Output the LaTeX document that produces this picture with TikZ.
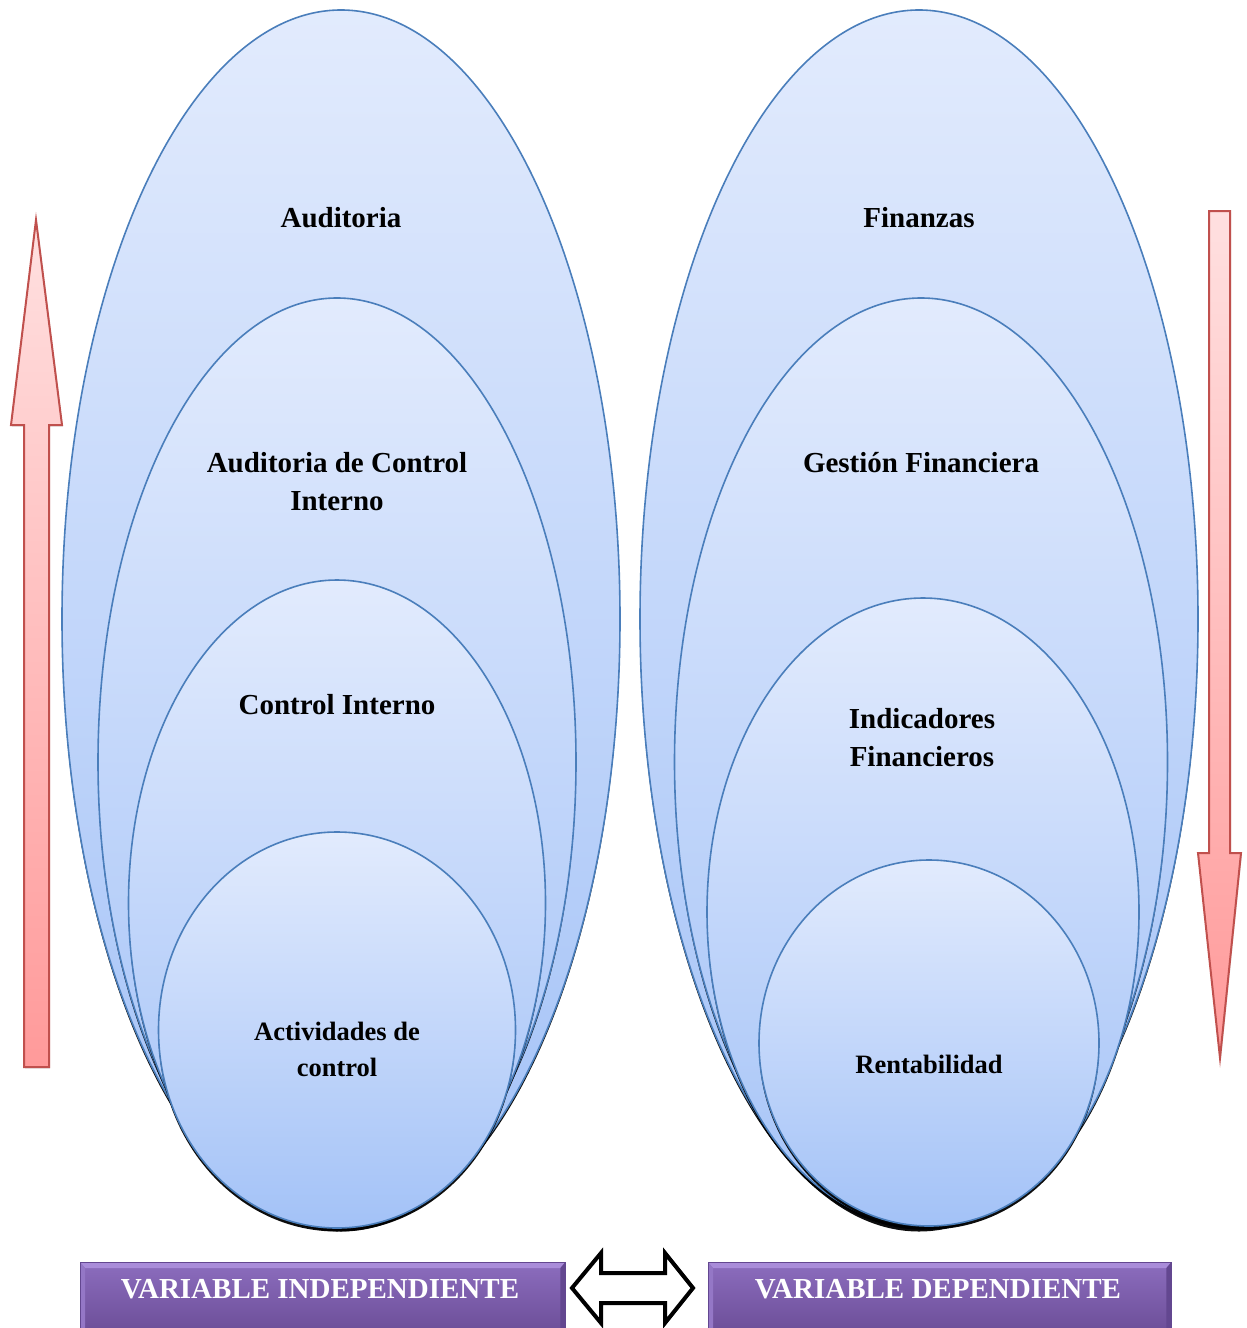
\documentclass[tikz,border=0pt]{standalone}
\usepackage{fontspec}
\setmainfont{Liberation Serif}
\usetikzlibrary{shapes.geometric,shadows}

\definecolor{ellTop}{HTML}{E2EBFD}
\definecolor{ellBot}{HTML}{A3C2F7}
\definecolor{ellLine}{HTML}{4A7EBB}
\definecolor{arrTop}{HTML}{FFE0E0}
\definecolor{arrBot}{HTML}{FF9A9A}
\definecolor{arrLine}{HTML}{C0504D}
\definecolor{boxTop}{HTML}{8C6DBE}
\definecolor{boxBot}{HTML}{6C4E98}
\definecolor{boxHi}{HTML}{A98CD9}
\definecolor{boxSide}{HTML}{9477C6}
\definecolor{boxDark}{HTML}{634790}

\begin{document}
\begin{tikzpicture}[x=1pt,y=-1pt,
  oval/.style={ellipse, draw=ellLine, line width=1.6pt, top color=ellTop,
    bottom color=ellBot, inner sep=0pt,
    drop shadow={shadow xshift=0pt, shadow yshift=-3.5pt, opacity=0.95, fill=black}},
  lbl/.style={font=\bfseries\fontsize{29}{38}\selectfont, align=center},
  lblsmall/.style={font=\bfseries\fontsize{26.5}{36}\selectfont, align=center},
  redarrow/.style={draw=arrLine, line width=2pt, top color=arrTop,
    bottom color=arrBot, line join=miter,
    drop shadow={shadow xshift=1pt, shadow yshift=-1.5pt, opacity=0.25}},
  varbox/.style={rectangle, anchor=north west, inner sep=0pt,
    top color=boxTop, bottom color=boxBot},
  vartext/.style={font=\bfseries\fontsize{29}{34}\selectfont, text=white},
  twoway/.style={draw=black, line width=4pt, fill=white, line join=miter}
]
\useasboundingbox (0,0) rectangle (1247,1328);

% left column: nested ellipses
\node[oval, minimum width=558, minimum height=1218] (L1) at (341,619) {};
\node[oval, minimum width=478, minimum height=928] (L2) at (337,762) {};
\node[oval, minimum width=417, minimum height=646] (L3) at (337,903) {};
\node[oval, minimum width=357, minimum height=396] (L4) at (337,1030) {};

% right column: nested ellipses
\node[oval, minimum width=558, minimum height=1218] (R1) at (919,619) {};
\node[oval, minimum width=493, minimum height=928] (R2) at (921,762) {};
\node[oval, minimum width=432, minimum height=628] (R3) at (923,912) {};
\node[oval, minimum width=340, minimum height=366] (R4) at (929,1043) {};

% labels
\node[lbl] (tL1) at (341,218) {Auditoria};
\node[lbl] (tL2) at (337,482) {Auditoria de Control\\Interno};
\node[lbl] (tL3) at (337,705) {Control Interno};
\node[lblsmall] (tL4) at (337,1049) {Actividades de\\control};

\node[lbl] (tR1) at (919,218) {Finanzas};
\node[lbl] (tR2) at (921,463) {Gestión Financiera};
\node[lbl] (tR3) at (922,738) {Indicadores\\Financieros};
\node[lblsmall] (tR4) at (929,1064) {Rentabilidad};

% direction arrows
\draw[redarrow] (36,220) -- (62,425) -- (49,425) -- (49,1067) -- (24,1067)
  -- (24,425) -- (11,425) -- cycle;
\draw[redarrow] (1209,211) -- (1230,211) -- (1230,853) -- (1241,853)
  -- (1220,1058) -- (1198,853) -- (1209,853) -- cycle;

% variable boxes with a bevelled rim
\node[varbox, minimum width=485, minimum height=70] (vi) at (80,1262) {};
\node[varbox, minimum width=463, minimum height=70] (vd) at (708,1262) {};
\foreach \b in {vi,vd}{
  \fill[boxHi] (\b.north west) -- (\b.north east) -- ([shift={(-5pt,-6pt)}]\b.north east)
    -- ([shift={(5pt,-6pt)}]\b.north west) -- cycle;
  \fill[boxSide] (\b.north west) -- ([shift={(5pt,-6pt)}]\b.north west)
    -- ([shift={(5pt,0pt)}]\b.south west) -- (\b.south west) -- cycle;
  \fill[boxDark] (\b.north east) -- ([shift={(-5pt,-6pt)}]\b.north east)
    -- ([shift={(-5pt,0pt)}]\b.south east) -- (\b.south east) -- cycle;
  \draw[boxDark, line width=0.8pt] (\b.south west) -- (\b.north west) -- (\b.north east) -- (\b.south east);
}
\node[vartext] (tvi) at (320,1289) {VARIABLE INDEPENDIENTE};
\node[vartext] (tvd) at (938,1289) {VARIABLE DEPENDIENTE};

% two-way arrow between the variables
\draw[twoway] (572,1288) -- (601,1253) -- (601,1273) -- (665,1273) -- (665,1253)
  -- (693,1288) -- (665,1323) -- (665,1303) -- (601,1303) -- (601,1323) -- cycle;
\end{tikzpicture}
\end{document}
